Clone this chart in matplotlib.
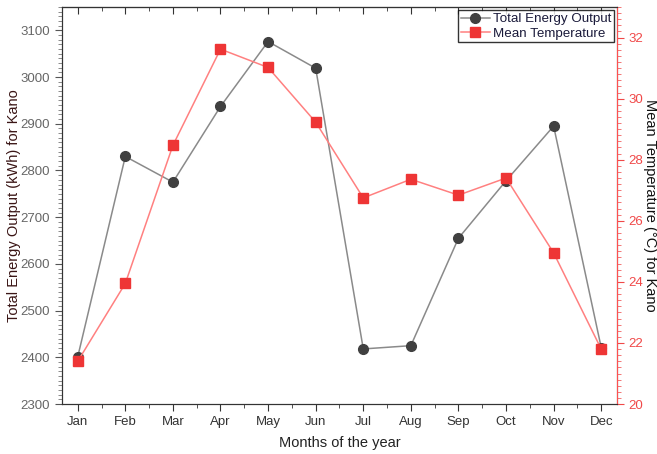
import matplotlib.pyplot as plt
from matplotlib.ticker import MultipleLocator

plt.rcParams['font.family'] = ['Liberation Sans', 'DejaVu Sans']

months = ['Jan', 'Feb', 'Mar', 'Apr', 'May', 'Jun',
          'Jul', 'Aug', 'Sep', 'Oct', 'Nov', 'Dec']
energy = [2401, 2830, 2775, 2937, 3076, 3019, 2418, 2425, 2655, 2778, 2895, 2421]
temperature = [21.4, 23.95, 28.47, 31.62, 31.02, 29.23,
               26.75, 27.36, 26.84, 27.4, 24.95, 21.8]

x = list(range(1, 13))

fig = plt.figure(figsize=(6.57, 4.54), dpi=100)
ax = fig.add_axes([0.0944, 0.110, 0.8446, 0.8746])
ax2 = ax.twinx()

ax.plot(x, energy, color='#8a8a8a', lw=1.1, marker='o', ms=7,
        mfc='#404040', mec='#404040', zorder=3, label='Total Energy Output')
ax2.plot(x, temperature, color='#ff8080', lw=1.1, marker='s', ms=6.5,
         mfc='#ee3535', mec='#ee3535', zorder=3, label='Mean Temperature')

ax.set_xlim(0.67, 12.33)
ax.set_ylim(2300, 3150)
ax2.set_ylim(20, 33)

ax.set_xticks(x)
ax.set_xticklabels(months)
ax.xaxis.set_minor_locator(MultipleLocator(0.5))
ax.yaxis.set_major_locator(MultipleLocator(100))
ax.yaxis.set_minor_locator(MultipleLocator(10))
ax2.yaxis.set_major_locator(MultipleLocator(2))
ax2.yaxis.set_minor_locator(MultipleLocator(0.2))

ax.tick_params(axis='x', which='both', direction='out', labelsize=9.5,
               colors='#333333')
ax.tick_params(axis='x', which='major', length=5)
ax.tick_params(axis='x', which='minor', length=3)
ax.tick_params(axis='y', which='major', length=5, labelsize=9.5,
               labelcolor='#666666', color='#555555')
ax.tick_params(axis='y', which='minor', length=3, color='#777777')
ax2.tick_params(axis='y', which='major', length=5, labelsize=9.5,
                colors='#f04848')
ax2.tick_params(axis='y', which='minor', length=3, colors='#f06060')

# inward ticks along the top edge
top = ax.secondary_xaxis('top')
top.set_xticks(x)
top.xaxis.set_minor_locator(MultipleLocator(0.5))
top.tick_params(axis='x', which='both', direction='in', labeltop=False,
                color='#333333')
top.tick_params(axis='x', which='major', length=5)
top.tick_params(axis='x', which='minor', length=3)
top.spines['top'].set_color('#333333')

for s in ['left', 'bottom', 'top']:
    ax.spines[s].set_color('#333333')
ax2.spines['right'].set_color('#ff5050')
ax2.spines['left'].set_color('#333333')
ax2.spines['top'].set_color('#333333')
ax2.spines['bottom'].set_color('#333333')

ax.set_xlabel('Months of the year', fontsize=10.5, color='#222222', labelpad=6)
ax.set_ylabel('Total Energy Output (kWh) for Kano', fontsize=10.5,
              color='#3a1515', va='center')
ax.yaxis.set_label_coords(-0.086, 0.5)
ax2.set_ylabel('Mean Temperature (\u00b0C) for Kano', fontsize=10.5,
               color='#111111', rotation=270, va='center')
ax2.yaxis.set_label_coords(1.06, 0.5)

h1, l1 = ax.get_legend_handles_labels()
h2, l2 = ax2.get_legend_handles_labels()
leg = ax2.legend(h1 + h2, l1 + l2, loc='upper right', fontsize=9.6,
                 frameon=True, fancybox=False, edgecolor='black',
                 borderaxespad=0.25, borderpad=0.2, handlelength=2.2,
                 handletextpad=0.2, labelspacing=0.15, labelcolor='#1a1a3a')
leg.get_frame().set_linewidth(1.0)

fig.savefig('out.png', dpi=100)
